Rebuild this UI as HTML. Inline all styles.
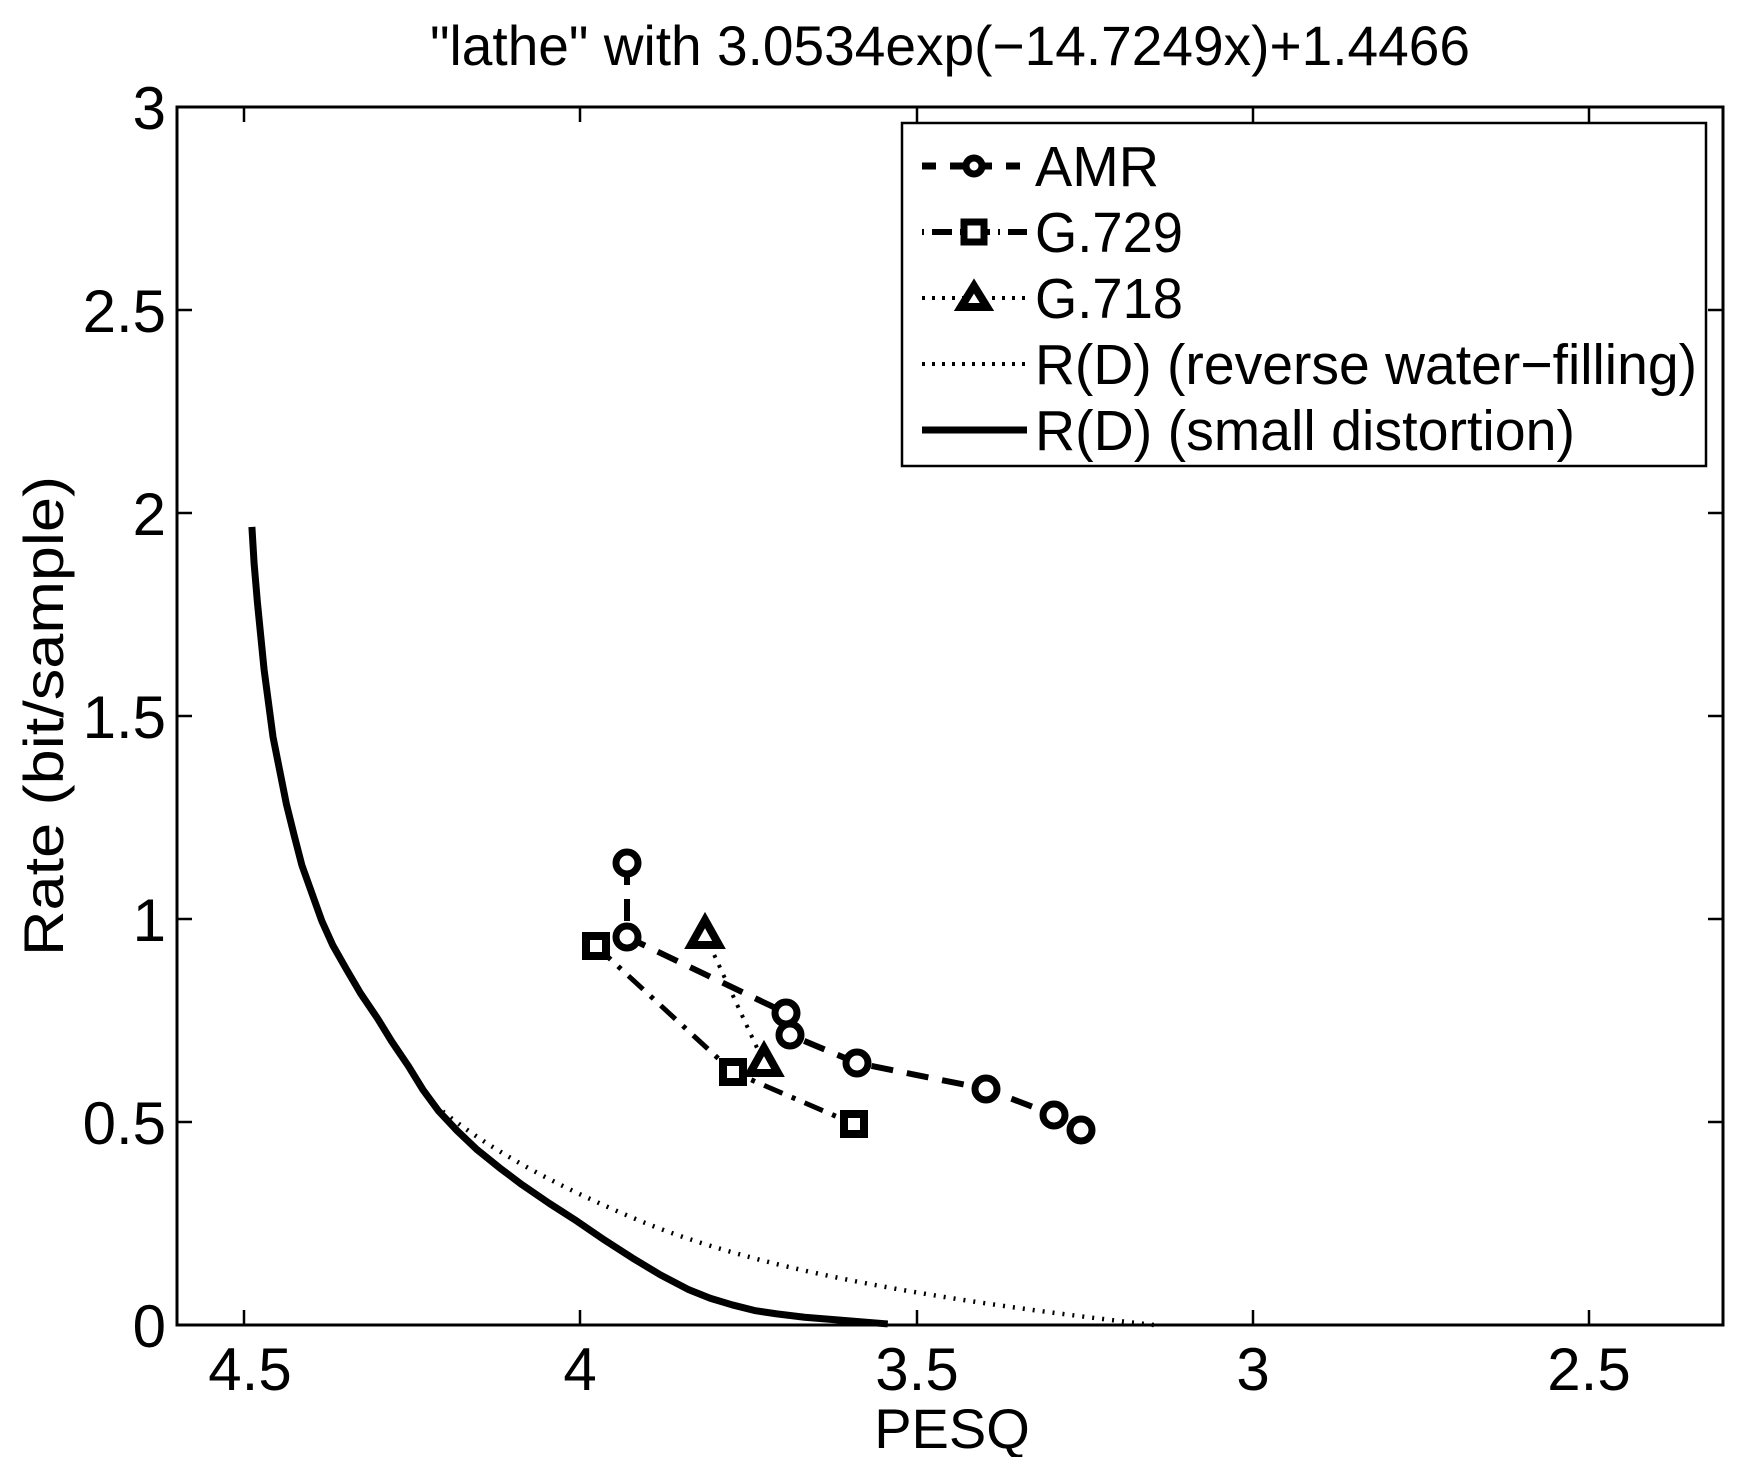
<!DOCTYPE html>
<html><head><meta charset="utf-8"><style>
html,body{margin:0;padding:0;background:#fff;}
svg{display:block;}
text{font-family:"Liberation Sans",Arial,sans-serif;fill:#000;}
</style></head><body>
<svg width="1751" height="1457" viewBox="0 0 1751 1457" xmlns="http://www.w3.org/2000/svg">
<rect width="1751" height="1457" fill="#fff"/>
<text x="950" y="65" font-size="56" text-anchor="middle" textLength="1040" lengthAdjust="spacingAndGlyphs">"lathe" with 3.0534exp(−14.7249x)+1.4466</text>
<rect x="177" y="107" width="1546" height="1218" fill="none" stroke="#000" stroke-width="3"/>
<g stroke="#000" stroke-width="2.5">
<line x1="244" y1="1325" x2="244" y2="1310"/><line x1="244" y1="107" x2="244" y2="122"/>
<line x1="580" y1="1325" x2="580" y2="1310"/><line x1="580" y1="107" x2="580" y2="122"/>
<line x1="917" y1="1325" x2="917" y2="1310"/><line x1="917" y1="107" x2="917" y2="122"/>
<line x1="1253" y1="1325" x2="1253" y2="1310"/><line x1="1253" y1="107" x2="1253" y2="122"/>
<line x1="1589" y1="1325" x2="1589" y2="1310"/><line x1="1589" y1="107" x2="1589" y2="122"/>
<line x1="177" y1="1122" x2="192" y2="1122"/><line x1="1723" y1="1122" x2="1708" y2="1122"/>
<line x1="177" y1="919" x2="192" y2="919"/><line x1="1723" y1="919" x2="1708" y2="919"/>
<line x1="177" y1="716" x2="192" y2="716"/><line x1="1723" y1="716" x2="1708" y2="716"/>
<line x1="177" y1="513" x2="192" y2="513"/><line x1="1723" y1="513" x2="1708" y2="513"/>
<line x1="177" y1="310" x2="192" y2="310"/><line x1="1723" y1="310" x2="1708" y2="310"/>
</g>
<g font-size="60" text-anchor="middle">
<text x="250" y="1390">4.5</text><text x="580" y="1390">4</text><text x="917" y="1390">3.5</text><text x="1253" y="1390">3</text><text x="1589" y="1390">2.5</text>
</g>
<g font-size="60" text-anchor="end">
<text x="166" y="1347">0</text><text x="166" y="1144">0.5</text><text x="166" y="941">1</text><text x="166" y="738">1.5</text><text x="166" y="535">2</text><text x="166" y="332">2.5</text><text x="166" y="129">3</text>
</g>
<text x="952" y="1448" font-size="56" text-anchor="middle">PESQ</text>
<text transform="translate(63,716) rotate(-90)" font-size="56" text-anchor="middle" textLength="480" lengthAdjust="spacingAndGlyphs">Rate (bit/sample)</text>

<g transform="scale(1.1097,1.1163)" fill="none" stroke="#000" stroke-linejoin="round">
<polyline points="227,472 229,505 232,540 235,570 238,600 242,630 246,660 252,690 258,720 265,748 272,775 281,800 290,825 300,847 312,868 325,890 340,912 353,933 368,955 381,976 395,995 412,1013 430,1030 450,1046 470,1061 495,1078 520,1094 545,1111 570,1127 595,1142 620,1155 640,1163 660,1169 680,1174 700,1177 725,1180 750,1182 775,1184 800,1186" stroke-width="7" vector-effect="non-scaling-stroke"/>
<path d="M392,990 C440,1030 500,1062 580,1095 C680,1135 820,1162 1040,1187" stroke-width="4.5" stroke-dasharray="2,8" vector-effect="non-scaling-stroke"/>
</g>

<g fill="none" stroke="#000">
<polyline points="627,863 627,937 786,1013 790,1035 857,1063 986,1089 1054,1115 1081,1130" stroke-width="6" stroke-dasharray="22,14"/>
<polyline points="596,946 733,1072 854,1124" stroke-width="5" stroke-dasharray="20,10,4,10"/>
<polyline points="705,935 764,1063" stroke-width="4" stroke-dasharray="3,8"/>
</g>
<g fill="#fff" stroke="#000" stroke-width="7">
<circle cx="627" cy="863" r="11"/><circle cx="627" cy="937" r="11"/><circle cx="786" cy="1013" r="11"/><circle cx="790" cy="1035" r="11"/><circle cx="857" cy="1063" r="11"/><circle cx="986" cy="1089" r="11"/><circle cx="1054" cy="1115" r="11"/><circle cx="1081" cy="1130" r="11"/>
</g>
<g fill="#fff" stroke="#000" stroke-width="8">
<rect x="586" y="936" width="20" height="20"/><rect x="723" y="1062" width="20" height="20"/><rect x="844" y="1114" width="20" height="20"/>
<polygon points="705,920 719,945 691,945"/><polygon points="764,1048 778,1073 750,1073"/>
</g>

<rect x="902" y="123" width="804" height="343" fill="#fff" stroke="#000" stroke-width="2.5"/>
<g fill="none" stroke="#000">
<line x1="922" y1="166" x2="1027" y2="166" stroke-width="7" stroke-dasharray="14,14"/>
<circle cx="974" cy="166" r="8" fill="#fff" stroke-width="7"/>
<line x1="922" y1="232" x2="1027" y2="232" stroke-width="6" stroke-dasharray="2,8,20,8"/>
<rect x="964" y="222" width="20" height="20" fill="#fff" stroke-width="7"/>
<line x1="922" y1="298" x2="1027" y2="298" stroke-width="4" stroke-dasharray="3,7"/>
<polygon points="974,286 987,307 961,307" fill="#fff" stroke-width="8"/>
<line x1="922" y1="364" x2="1027" y2="364" stroke-width="4" stroke-dasharray="3,7"/>
<line x1="922" y1="430" x2="1027" y2="430" stroke-width="7"/>
</g>
<g font-size="57">
<text x="1035" y="186" textLength="124" lengthAdjust="spacingAndGlyphs">AMR</text>
<text x="1035" y="252" textLength="148" lengthAdjust="spacingAndGlyphs">G.729</text>
<text x="1035" y="318" textLength="148" lengthAdjust="spacingAndGlyphs">G.718</text>
<text x="1035" y="384" textLength="662" lengthAdjust="spacingAndGlyphs">R(D) (reverse water−filling)</text>
<text x="1035" y="450" textLength="540" lengthAdjust="spacingAndGlyphs">R(D) (small distortion)</text>
</g>
</svg>
</body></html>
